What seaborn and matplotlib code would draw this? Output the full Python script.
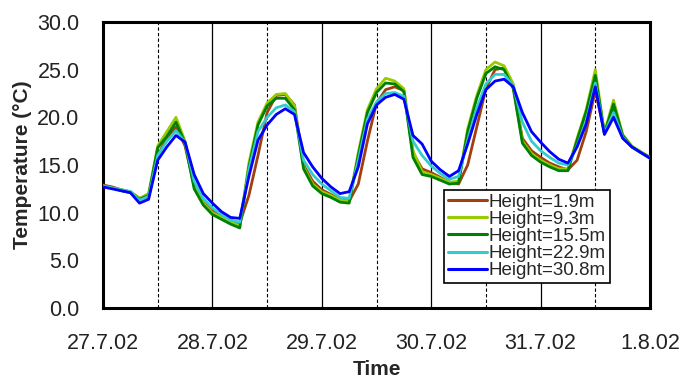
import matplotlib
matplotlib.use("Agg")
import matplotlib.pyplot as plt
import seaborn as sns
import pandas as pd
import numpy as np

# time in hours since 27.7.02 00:00 (2-hour steps)
hours = list(range(0, 121, 2))

series_names = ["Height=1.9m", "Height=9.3m", "Height=15.5m", "Height=22.9m", "Height=30.8m"]

t_1_9 = [12.9, 12.7, 12.4, 12.2, 11.5, 11.6, 16.0, 17.8, 19.0, 17.0, 12.8, 11.1,
         10.2, 9.6, 9.2, 8.9, 11.8, 16.0, 20.5, 22.3, 22.4, 21.3, 15.0, 13.3,
         12.4, 11.9, 11.4, 11.2, 13.0, 17.5, 21.5, 22.9, 23.2, 22.8, 16.3, 14.6,
         14.2, 13.7, 13.2, 13.0, 15.0, 19.0, 23.0, 25.0, 25.2, 23.2, 17.8, 16.5,
         15.8, 15.2, 14.8, 14.5, 15.5, 18.5, 22.8, 18.4, 21.0, 18.0, 16.9, 16.3,
         15.8]
t_9_3 = [12.8, 12.6, 12.4, 12.2, 11.5, 12.0, 17.0, 18.5, 20.0, 17.5, 12.8, 11.0,
         10.0, 9.5, 9.0, 8.6, 15.2, 19.5, 21.5, 22.4, 22.5, 21.2, 14.8, 13.0,
         12.2, 11.8, 11.3, 11.2, 16.3, 20.8, 23.0, 24.1, 23.8, 23.0, 16.5, 14.3,
         14.0, 13.6, 13.2, 13.3, 18.8, 22.3, 25.0, 25.8, 25.4, 23.5, 17.5, 16.2,
         15.5, 15.0, 14.6, 14.6, 17.8, 20.8, 25.0, 18.4, 21.8, 18.2, 17.0, 16.4,
         15.8]
t_15_5 = [12.8, 12.6, 12.3, 12.1, 11.4, 11.8, 16.8, 18.0, 19.5, 17.3, 12.5, 10.8,
          9.8, 9.3, 8.8, 8.4, 14.8, 19.2, 21.2, 22.0, 22.0, 20.8, 14.6, 12.8,
          12.0, 11.6, 11.1, 11.0, 16.0, 20.5, 22.6, 23.6, 23.5, 22.7, 15.8, 14.0,
          13.8, 13.4, 13.0, 13.1, 18.5, 22.0, 24.6, 25.3, 25.0, 23.0, 17.3, 16.0,
          15.3, 14.8, 14.4, 14.4, 17.6, 20.6, 24.4, 18.3, 21.4, 18.1, 16.9, 16.3,
          15.8]
t_22_9 = [12.8, 12.6, 12.4, 12.2, 11.3, 11.7, 16.0, 17.5, 18.6, 17.4, 13.3, 11.5,
          10.5, 9.8, 9.2, 9.0, 14.5, 18.5, 20.0, 21.0, 21.3, 20.6, 15.5, 14.0,
          13.0, 12.3, 11.6, 11.5, 15.5, 19.8, 21.6, 22.5, 22.6, 22.2, 17.5, 16.0,
          14.9, 14.1, 13.5, 13.8, 17.6, 21.0, 23.5, 24.5, 24.5, 23.3, 19.5, 17.5,
          16.5, 15.8, 15.2, 15.0, 17.0, 19.6, 23.6, 18.3, 20.5, 17.9, 16.9, 16.3,
          15.7]
t_30_8 = [12.7, 12.5, 12.3, 12.1, 11.0, 11.4, 15.5, 16.9, 18.1, 17.4, 14.0, 12.0,
          11.0, 10.1, 9.5, 9.4, 13.8, 17.6, 19.2, 20.3, 20.9, 20.3, 16.3, 14.8,
          13.6, 12.7, 12.0, 12.2, 14.8, 19.3, 21.3, 22.1, 22.4, 21.9, 18.1, 17.2,
          15.4, 14.5, 13.8, 14.4, 17.2, 20.3, 22.9, 23.8, 24.0, 23.2, 20.5, 18.5,
          17.4, 16.4, 15.6, 15.2, 16.9, 19.3, 23.2, 18.2, 20.0, 17.8, 16.9, 16.3,
          15.7]

day_labels = ["27.7.02", "28.7.02", "29.7.02", "30.7.02", "31.7.02", "1.8.02"]
y_ticks = [0, 5, 10, 15, 20, 25, 30]

colors = ["#A0400F", "#99CC00", "#008000", "#33CCCC", "#0000FF"]

all_vals = [t_1_9, t_9_3, t_15_5, t_22_9, t_30_8]
rows = []
for name, vals in zip(series_names, all_vals):
    for h, v in zip(hours, vals):
        rows.append({"day": h / 24.0, "temp": v, "series": name})
df = pd.DataFrame(rows)

sns.set_style("white")
plt.rcParams["font.family"] = ["Liberation Sans", "DejaVu Sans"]

fig = plt.figure(figsize=(6.84, 3.83), dpi=100)
ax = fig.add_axes([0.1506, 0.1958, 0.7997, 0.7468])

# vertical grid lines
for i in range(1, 5):
    ax.axvline(i, color="black", lw=0.9, zorder=1)
for i in range(5):
    ax.axvline(i + 0.5, color="black", lw=0.8, ls=(0, (3, 2)), zorder=1)

sns.lineplot(data=df, x="day", y="temp", hue="series", hue_order=series_names,
             palette=colors, linewidth=2.0, ax=ax, zorder=3, legend=True)

ax.set_xlim(0, 5)
ax.set_ylim(0, 30)
ax.set_xticks(range(6))
ax.set_xticklabels(day_labels)
ax.set_xticks([i + 0.5 for i in range(5)], minor=True)
ax.set_yticks(y_ticks)
ax.set_yticklabels([f"{v:.1f}" for v in y_ticks])

ax.tick_params(axis="both", which="both", direction="out", color="black",
               labelsize=15.5, labelcolor="#222222")
ax.tick_params(axis="x", which="both", length=5, width=1.2, pad=13)
ax.tick_params(axis="y", which="both", length=8, width=1.2, pad=9)
ax.tick_params(axis="x", which="minor", length=5)

for s in ax.spines.values():
    s.set_visible(True)
    s.set_color("black")
    s.set_linewidth(2.2)

ax.set_xlabel("Time", fontsize=15, fontweight="bold", labelpad=4)
ax.set_ylabel("Temperature (°C)", fontsize=15, fontweight="bold", labelpad=4)

leg = ax.legend(loc="upper left", bbox_to_anchor=(0.623, 0.413), fontsize=13.5,
                frameon=True, fancybox=False, edgecolor="black", framealpha=1,
                borderaxespad=0, labelspacing=0.0, handlelength=2.1,
                handletextpad=0.1, borderpad=0.2)
leg.get_frame().set_linewidth(1.2)
for line in leg.get_lines():
    line.set_linewidth(2.2)

fig.savefig("out.png", dpi=100)
